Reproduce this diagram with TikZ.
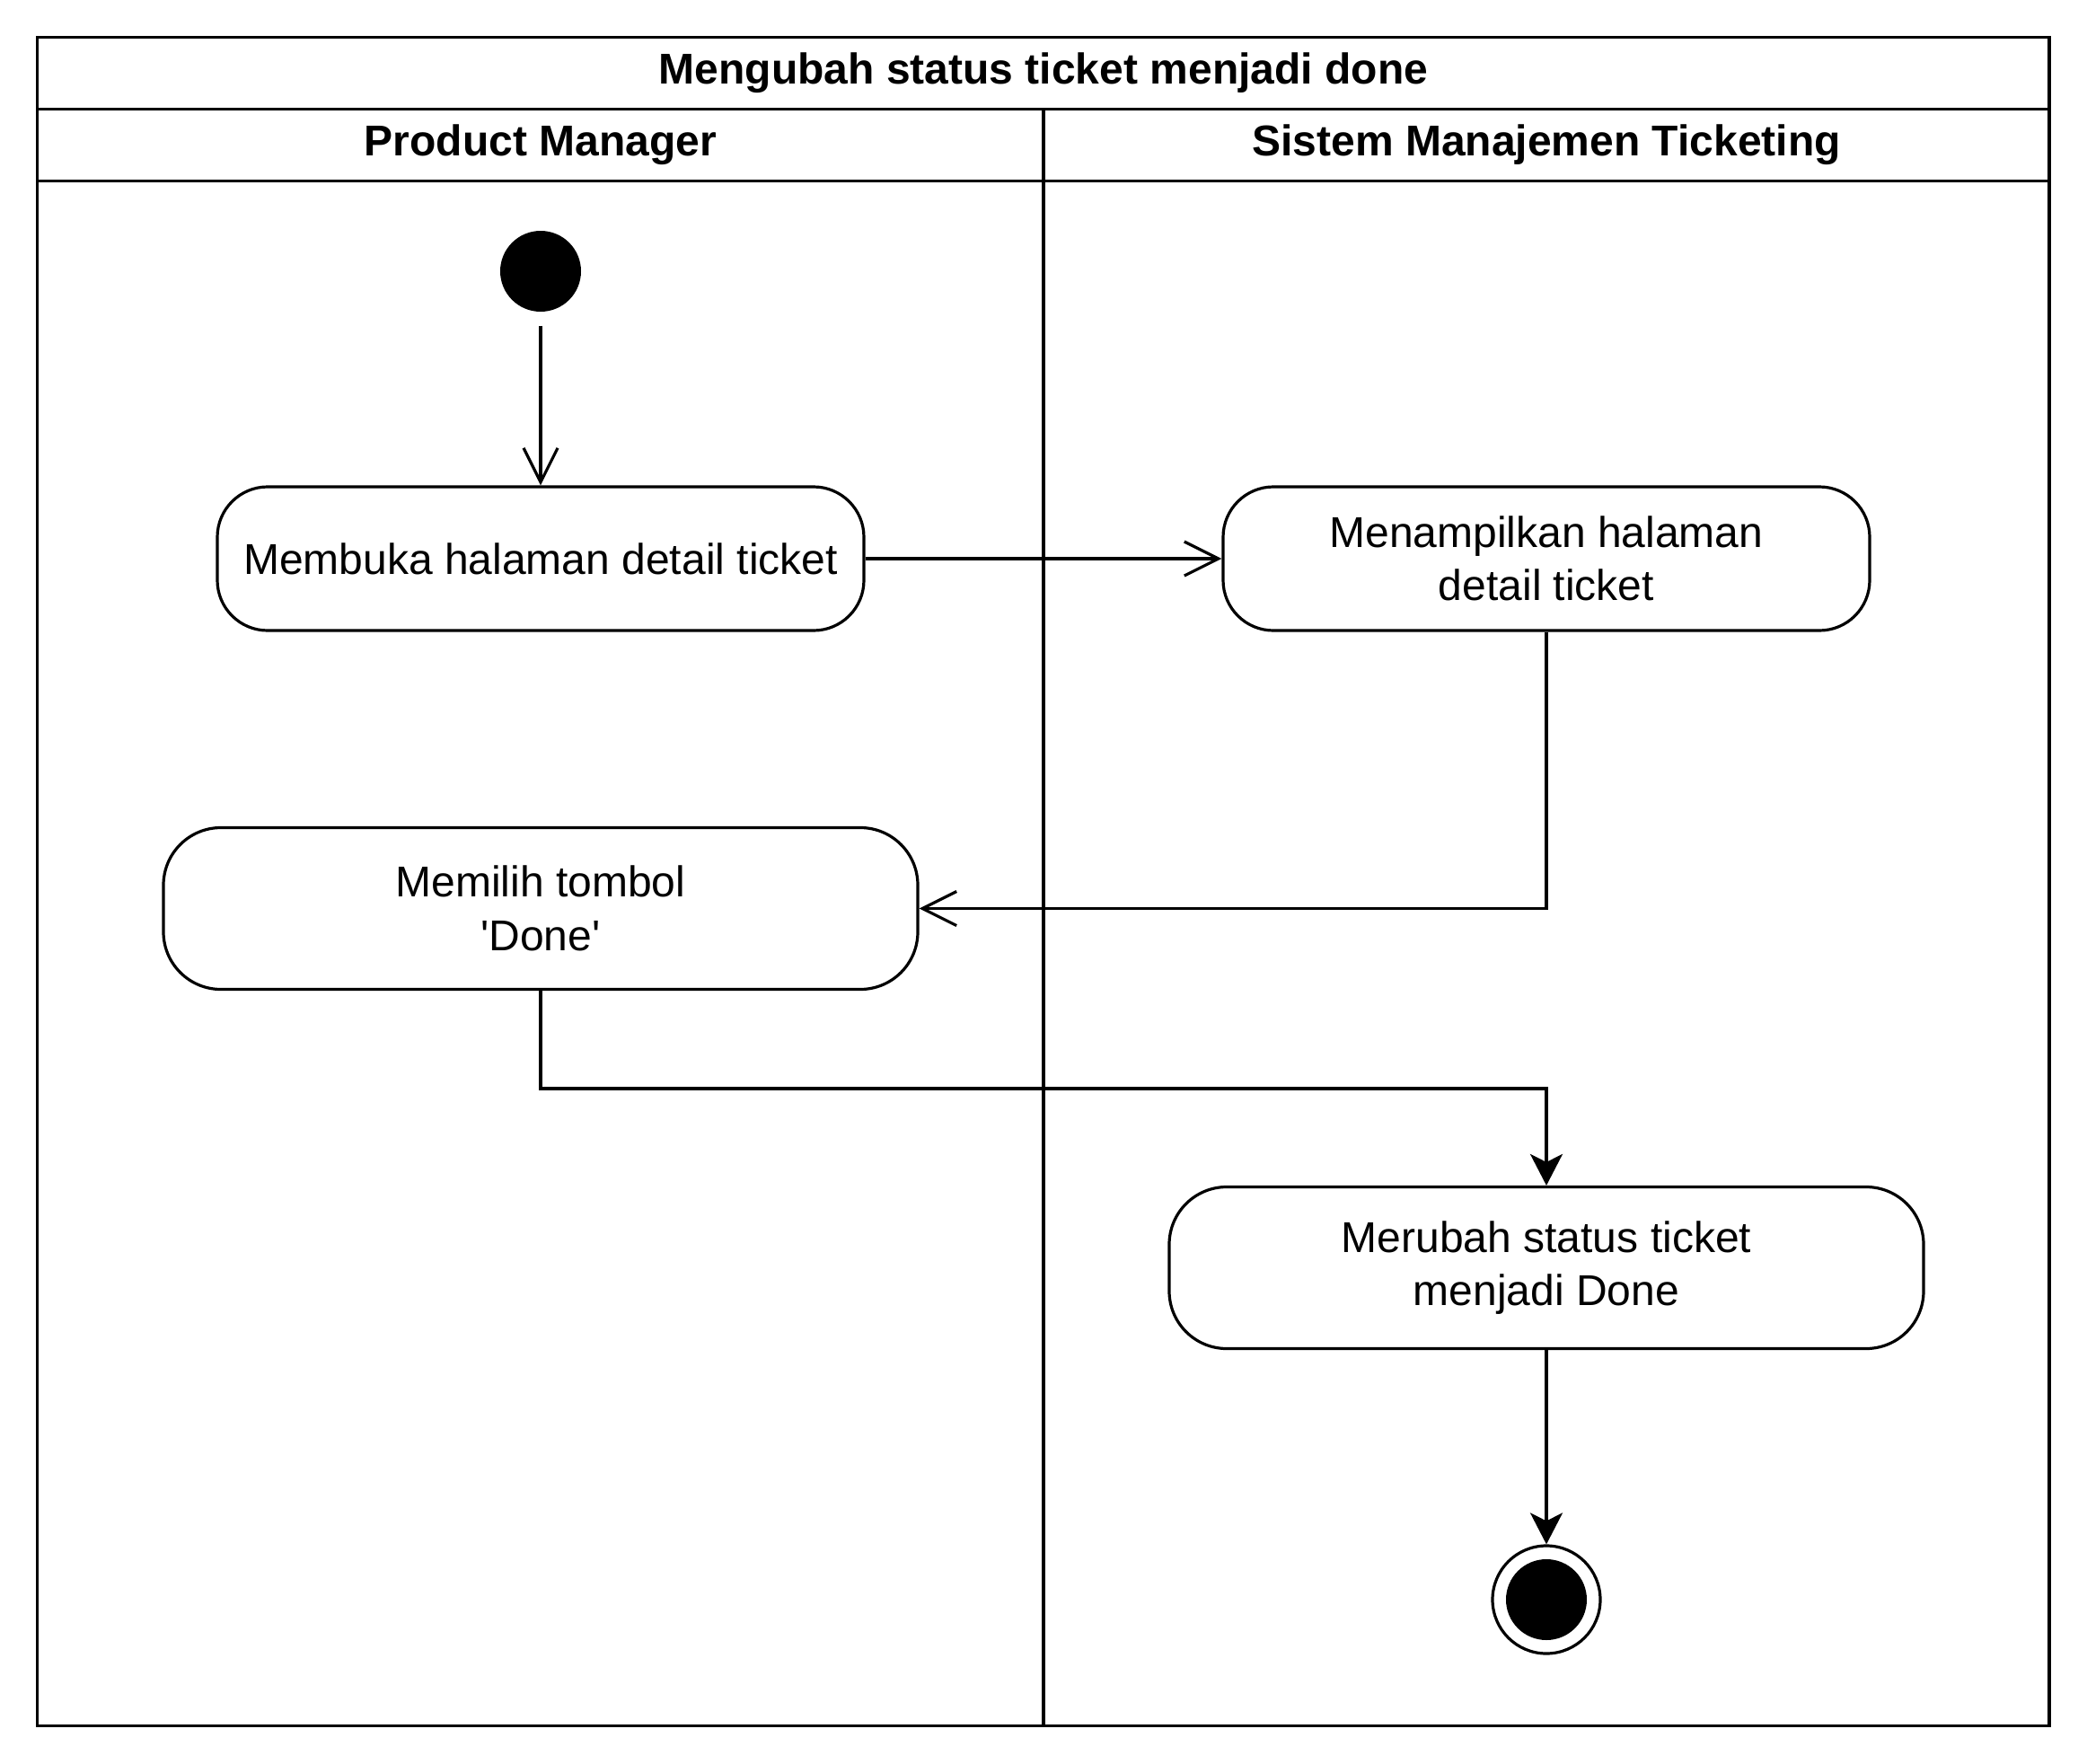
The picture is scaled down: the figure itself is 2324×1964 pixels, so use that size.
\documentclass[tikz,border=0pt]{standalone}
\usepackage{fontspec}
\setmainfont{Liberation Sans}[Ligatures=TeXOff]
\usetikzlibrary{arrows.meta}

\begin{document}
\begin{tikzpicture}[
      x=0.5pt, y=-0.5pt,
      line width=1.6pt,
      every node/.style={inner sep=0pt,font=\fontsize{24}{29.7}\selectfont},
      lane/.style={font=\fontsize{24}{29.7}\selectfont\bfseries},
      action/.style={draw,rounded corners=28pt,align=center,minimum width=360pt,minimum height=80pt},
      wide/.style={action,rounded corners=32pt,minimum width=420pt,minimum height=90pt},
      startnode/.style={circle,fill,minimum size=45pt},
      endnode/.style={circle,draw,minimum size=60pt},
      msg/.style={-{Straight Barb[length=19pt,width=19pt]}},
      flow/.style={-{Stealth[length=17.5pt,width=18pt,inset=4.5pt]}}
    ]
      \useasboundingbox (0,0) rectangle (2324,1964);
      % swimlanes
      \draw (41.5,41.5) rectangle (2282,1921.5);
      \draw (41.5,121.5) -- (2282,121.5);
      \draw (41.5,201.5) -- (2282,201.5);
      \draw (1162,121.5) -- (1162,1921.5);
      \node[lane] (title) at (1162,81.5) {Mengubah status ticket menjadi done};
      \node[lane] (pm) at (602,161.5) {Product Manager};
      \node[lane] (sys) at (1722,161.5) {Sistem Manajemen Ticketing};

      % activities
      \node[startnode] (start) at (602,302) {};
      \node[action] (open) at (602,622) {Membuka halaman detail ticket};
      \node[action] (show) at (1722,622) {Menampilkan halaman\\detail ticket};
      \node[wide] (pick) at (602,1011.5) {Memilih tombol\\'Done'};
      \node[wide] (update) at (1722,1411.5) {Merubah status ticket\\menjadi Done};
      \node[endnode] (stop) at (1722,1781) {};
      \node[startnode] (stopdot) at (stop) {};
      \coordinate (turn) at (602,1212);

      \draw[msg,shorten <=7pt] (start) -- (open);
      \draw[msg] (open) -- (show);
      \draw[msg] (show) |- (pick);
      \draw[flow] (pick) -- (turn) -| (update);
      \draw[flow] (update) -- (stop);
    \end{tikzpicture}
\end{document}
